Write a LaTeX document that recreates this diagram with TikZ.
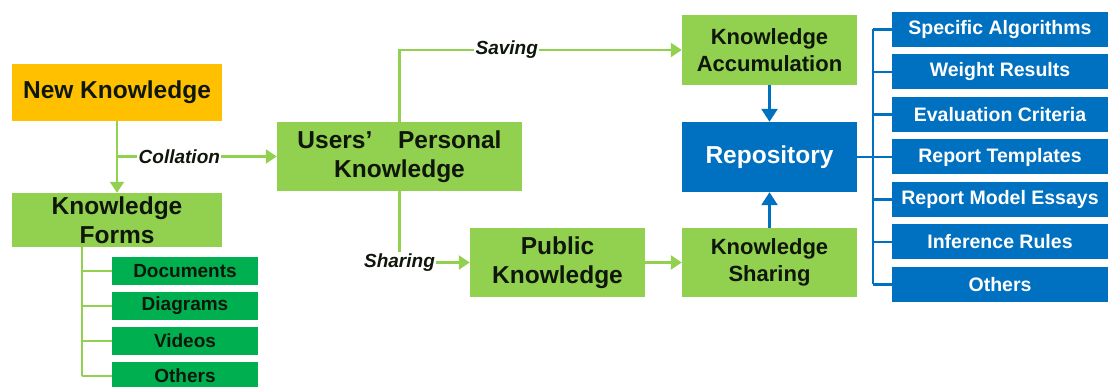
\documentclass[tikz,border=0pt]{standalone}
\usepackage{fontspec}
\setmainfont{Liberation Sans}
\usetikzlibrary{arrows.meta}
\definecolor{orng}{RGB}{255,192,0}
\definecolor{lgreen}{RGB}{146,208,80}
\definecolor{dgreen}{RGB}{0,176,80}
\definecolor{blu}{RGB}{0,112,192}
\definecolor{txt}{RGB}{15,22,10}
\begin{document}
\begin{tikzpicture}[x=1pt,y=-1pt,
  box/.style={rectangle, inner sep=0pt, align=center, text=txt},
  big/.style={font=\bfseries\fontsize{24.5}{29}\selectfont},
  mid/.style={font=\bfseries\fontsize{22}{27}\selectfont},
  small/.style={font=\bfseries\fontsize{19}{22}\selectfont},
  gbox/.style={box, fill=lgreen},
  subbox/.style={box, small, fill=dgreen, minimum width=146pt, minimum height=28pt},
  listbox/.style={box, fill=blu, text=white, font=\bfseries\fontsize{19.5}{22}\selectfont, minimum width=216pt, minimum height=35pt},
  gline/.style={draw=lgreen, line width=2.2pt},
  garrow/.style={gline, -{Triangle[width=14pt,length=11pt]}},
  bline/.style={draw=blu, line width=2.2pt},
  barrow/.style={draw=blu, line width=2.6pt, -{Triangle[width=16pt,length=13pt]}},
  lab/.style={font=\bfseries\itshape\fontsize{19}{22}\selectfont, text=txt, fill=white, inner sep=1.5pt}
]
\useasboundingbox (0,0) rectangle (1108,387);
\fill[white] (0,0) rectangle (1108,387);

% left column
\node[box, big, fill=orng, minimum width=210pt, minimum height=57pt] (nk) at (117,92.5) {New Knowledge};
\node[gbox, big, minimum width=210pt, minimum height=54pt] (kf) at (117,220) {Knowledge\\Forms};
\node[subbox] (s1) at (185,271) {Documents};
\node[subbox] (s2) at (185,306) {Diagrams};
\node[subbox] (s3) at (185,341) {Videos};
\node[subbox] (s4) at (185,376) {Others};

% middle
\node[gbox, big, minimum width=245pt, minimum height=69pt] (upk) at (399.5,156.5) {Users’\hspace{1.05em}Personal\\Knowledge};
\node[gbox, big, minimum width=175pt, minimum height=69pt] (pk) at (557.5,262.5) {Public\\Knowledge};

% right column
\node[gbox, mid, minimum width=175pt, minimum height=70pt] (ka) at (769.5,50) {Knowledge\\Accumulation};
\node[box, big, fill=blu, text=white, minimum width=175pt, minimum height=70pt] (rep) at (769.5,157) {Repository};
\node[gbox, mid, minimum width=175pt, minimum height=69pt] (ks) at (769.5,262.5) {Knowledge\\Sharing};

% list
\node[listbox] (r1) at (1000,29.5) {Specific Algorithms};
\node[listbox] (r2) at (1000,72) {Weight Results};
\node[listbox] (r3) at (1000,114.5) {Evaluation Criteria};
\node[listbox] (r4) at (1000,157) {Report Templates};
\node[listbox] (r5) at (1000,199.5) {Report Model Essays};
\node[listbox] (r6) at (1000,242) {Inference Rules};
\node[listbox] (r7) at (1000,284.5) {Others};

% connectors left
\draw[garrow] (nk.south) -- (kf.north);
\coordinate (c1) at (nk.south |- upk.west);
\draw[garrow] (c1) -- node[lab, pos=0.39] {Collation} (upk.west);
\coordinate (kx) at (82,0);
\draw[gline] (kf.south -| kx) -- (s4.west -| kx);
\foreach \s in {s1,s2,s3,s4} \draw[gline] (\s.west -| kx) -- (\s.west);

% connectors middle
\draw[garrow] (upk.north) -- (upk.north |- ka.west) -- node[lab, pos=0.38] {Saving} (ka.west);
\draw[garrow] (upk.south) |- node[lab, pos=0.5] {Sharing} (pk.west);
\draw[garrow] (pk.east) -- (ks.west);

% repository arrows
\draw[barrow] (ka.south) -- (rep.north);
\draw[barrow] (ks.north) -- (rep.south);

% bracket
\coordinate (bx) at (873,0);
\draw[bline] (rep.east) -- (rep.east -| bx);
\draw[bline] (r1.west -| bx) -- (r7.west -| bx);
\foreach \r in {r1,r2,r3,r4,r5,r6,r7} \draw[bline] (\r.west -| bx) -- (\r.west);
\end{tikzpicture}
\end{document}
